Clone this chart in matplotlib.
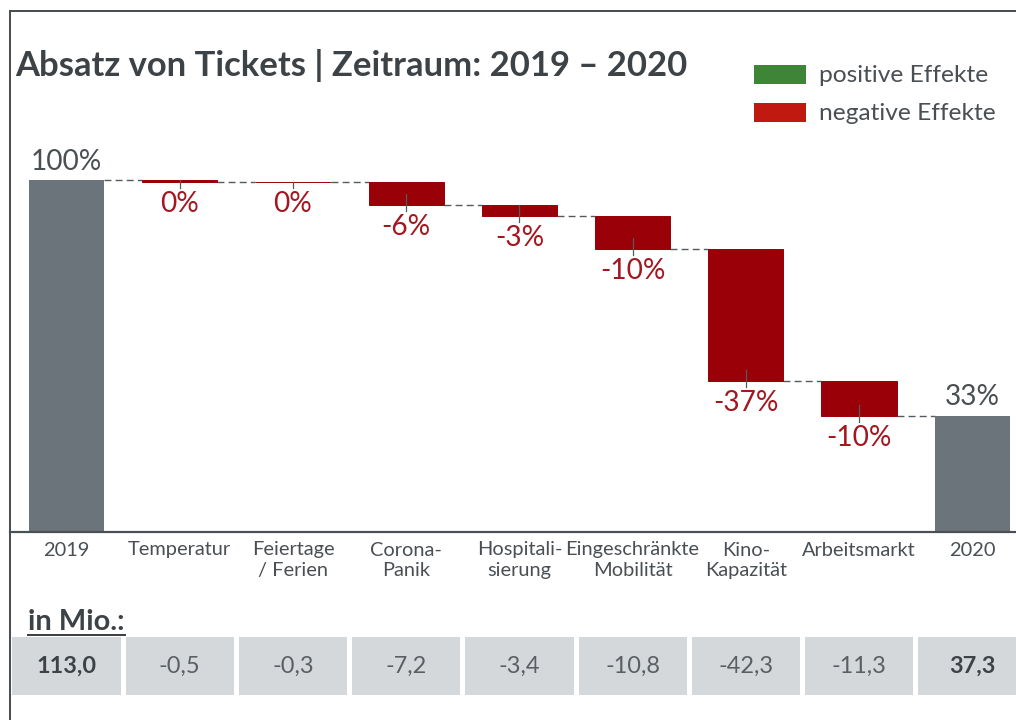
import matplotlib
matplotlib.use("Agg")
import matplotlib.pyplot as plt
from matplotlib.lines import Line2D
from matplotlib.patches import Rectangle
from matplotlib.transforms import blended_transform_factory

# ---------------- data ----------------
categories = ["2019", "Temperatur", "Feiertage\n/ Ferien", "Corona-\nPanik",
              "Hospitali-\nsierung", "Eingeschränkte\nMobilität", "Kino-\nKapazität",
              "Arbeitsmarkt", "2020"]
values_mio = [113.0, -0.5, -0.3, -7.2, -3.4, -10.8, -42.3, -11.3, 37.3]
is_total = [True, False, False, False, False, False, False, False, True]

title = "Absatz von Tickets | Zeitraum: 2019 – 2020"
legend_labels = ["positive Effekte", "negative Effekte"]
table_title = "in Mio.:"

# ---------------- style ----------------
plt.rcParams['font.family'] = ['Lato', 'DejaVu Sans']
W, H = 1016, 720
fig = plt.figure(figsize=(W / 100, H / 100), dpi=100)
fig.patch.set_facecolor('white')

def fx(px):
    return px / W

def fy(py):
    return 1 - py / H

def pt(px):
    return px * 72 / 100

c_red = '#9a0007'
c_red_lbl = '#a3171f'
c_gray_bar = '#6b747b'
c_text = '#4a4f54'
c_dark = '#3d4246'
c_green_leg = '#3e8538'
c_red_leg = '#c0190f'
c_cell = '#d5d8db'
c_line = '#555a5e'

x0_px, x1_px = 10, 1016
unit = 113.2
xmin = -0.5
xmax = xmin + (x1_px - x0_px) / unit
base_px, top_px = 532, 120
ppu = 352 / 113.0  # pixels per Mio
ymax = (base_px - top_px) / ppu

ax = fig.add_axes([fx(x0_px), fy(base_px), fx(x1_px) - fx(x0_px), fy(top_px) - fy(base_px)])
ax.set_xlim(xmin, xmax)
ax.set_ylim(0, ymax)
ax.axis('off')

bw = 0.665
start = values_mio[0]
running = 0.0
bottoms, heights, tops_after = [], [], []
for v, tot in zip(values_mio, is_total):
    if tot:
        b, h = 0.0, v
        running = v
    else:
        new = running + v
        b, h = new, -v
        running = new
    bottoms.append(b)
    heights.append(h)
    tops_after.append(running)

for i, (b, h, tot) in enumerate(zip(bottoms, heights, is_total)):
    col = c_gray_bar if tot else c_red
    ax.bar(i, h, bottom=b, width=bw, color=col, edgecolor=col,
           linewidth=0 if tot else 0.7, zorder=3)

# connectors
for i in range(len(categories) - 1):
    lvl = tops_after[i]
    ax.plot([i + bw / 2, i + 1 - bw / 2], [lvl, lvl], color=c_line, lw=1.0,
            ls=(0, (5, 3)), zorder=2)

# percent labels
for i, (v, b, h, tot) in enumerate(zip(values_mio, bottoms, heights, is_total)):
    pct = int(round(v / start * 100))
    if pct == 0:
        pct = 0
    lbl = f"{pct}%"
    if tot:
        ax.annotate(lbl, (i, b + h), xytext=(0, pt(10.5)), textcoords='offset points',
                    ha='center', va='baseline', fontsize=pt(28), color=c_text, zorder=5)
    else:
        ax.annotate(lbl, (i, b), xytext=(0, -pt(22)), textcoords='offset points',
                    ha='center', va='center', fontsize=pt(28), color=c_red_lbl, zorder=5)
        top_tick = min(b + 11 / ppu, b + h)
        ax.plot([i, i], [top_tick, b - 6 / ppu], color=c_line, lw=0.9, zorder=4,
                clip_on=False)

# category labels
tr = blended_transform_factory(ax.transData, fig.transFigure)
for i, c in enumerate(categories):
    fig.text(i, fy(541.5), c, transform=tr, ha='center', va='top',
             fontsize=pt(20), color=c_text, linespacing=1.22, multialignment='center')

# baseline and frame
fig.add_artist(Line2D([fx(10), fx(1016)], [fy(532), fy(532)], color=c_text, lw=pt(2.2)))
fig.add_artist(Line2D([fx(9.5), fx(9.5)], [fy(11), fy(720)], color=c_text, lw=pt(2)))
fig.add_artist(Line2D([fx(9.5), fx(1016)], [fy(11), fy(11)], color=c_text, lw=pt(2)))

# title
fig.text(fx(15), fy(76.5), title, ha='left', va='baseline', fontsize=pt(34.7),
         fontweight='bold', color=c_dark)

# legend
for (yt, col, lbl) in [(65, c_green_leg, legend_labels[0]), (103, c_red_leg, legend_labels[1])]:
    fig.add_artist(Rectangle((fx(754), fy(yt + 19)), fx(806) - fx(754), fy(yt) - fy(yt + 19),
                             transform=fig.transFigure, color=col, lw=0))
    fig.text(fx(819), fy(yt + 10.5), lbl, ha='left', va='center', fontsize=pt(24.5),
             color=c_text)

# table
tax = fig.add_axes([fx(x0_px), fy(695), fx(x1_px) - fx(x0_px), fy(637) - fy(695)])
tax.set_xlim(xmin, xmax)
tax.set_ylim(0, 1)
tax.axis('off')
gap = 2.5 / unit
for i, (v, tot) in enumerate(zip(values_mio, is_total)):
    tax.add_patch(Rectangle((i - 0.5 + gap, 0), 1 - 2 * gap, 1, color=c_cell, lw=0,
                            clip_on=True))
    s = f"{v:.1f}".replace('.', ',')
    tax.text(i, 0.5, s, ha='center', va='center', fontsize=pt(23.5),
             fontweight='bold' if tot else 'normal', color=c_dark if tot else '#5a5f63')

# "in Mio.:" with underline
t = fig.text(fx(28), fy(630), table_title, ha='left', va='baseline', fontsize=pt(29),
             fontweight='bold', color=c_dark)
fig.canvas.draw()
bb = t.get_window_extent(renderer=fig.canvas.get_renderer())
fig.add_artist(Line2D([bb.x0 / W, bb.x1 / W], [fy(634.5), fy(634.5)], color=c_dark,
                      lw=pt(2)))

fig.savefig("out.png", dpi=100, facecolor='white')
